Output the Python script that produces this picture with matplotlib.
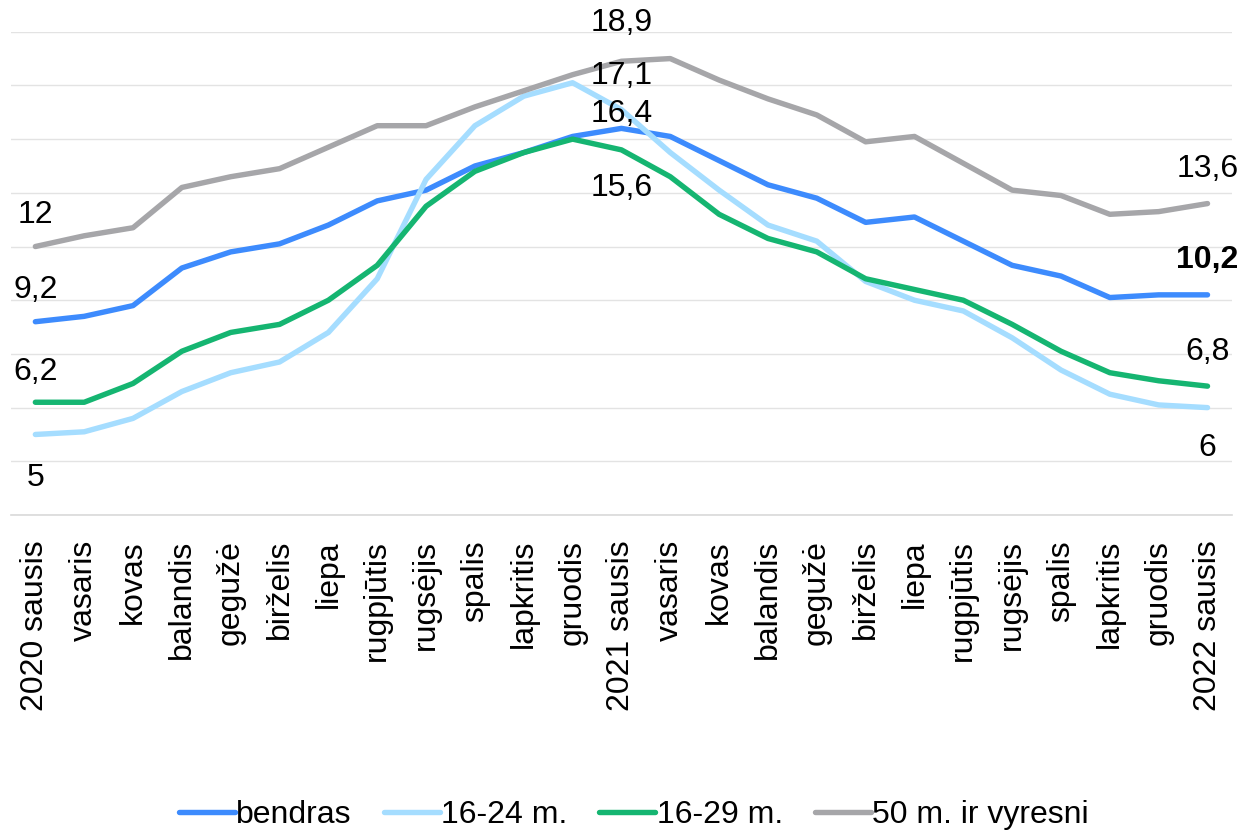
import numpy as np
import matplotlib.pyplot as plt

plt.rcParams['font.family'] = ['Liberation Sans', 'DejaVu Sans']

# Month labels along the x axis
months = ['2020 sausis', 'vasaris', 'kovas', 'balandis', 'gegužė', 'birželis',
          'liepa', 'rugpjūtis', 'rugsėjis', 'spalis', 'lapkritis', 'gruodis',
          '2021 sausis', 'vasaris', 'kovas', 'balandis', 'gegužė', 'birželis',
          'liepa', 'rugpjūtis', 'rugsėjis', 'spalis', 'lapkritis', 'gruodis',
          '2022 sausis']

# Series values
bendras = [9.2, 9.4, 9.8, 11.2, 11.8, 12.1, 12.8, 13.7, 14.1, 15.0, 15.5, 16.1,
           16.4, 16.1, 15.2, 14.3, 13.8, 12.9, 13.1, 12.2, 11.3, 10.9, 10.1, 10.2,
           10.2]
m16_24 = [5.0, 5.1, 5.6, 6.6, 7.3, 7.7, 8.8, 10.8, 14.5, 16.5, 17.6, 18.1,
          17.1, 15.5, 14.1, 12.8, 12.2, 10.7, 10.0, 9.6, 8.6, 7.4, 6.5, 6.1,
          6.0]
m16_29 = [6.2, 6.2, 6.9, 8.1, 8.8, 9.1, 10.0, 11.3, 13.5, 14.8, 15.5, 16.0,
          15.6, 14.6, 13.2, 12.3, 11.8, 10.8, 10.4, 10.0, 9.1, 8.1, 7.3, 7.0,
          6.8]
m50 = [12.0, 12.4, 12.7, 14.2, 14.6, 14.9, 15.7, 16.5, 16.5, 17.2, 17.8, 18.4,
       18.9, 19.0, 18.2, 17.5, 16.9, 15.9, 16.1, 15.1, 14.1, 13.9, 13.2, 13.3,
       13.6]

series = [bendras, m16_24, m16_29, m50]
names = ['bendras', '16-24 m.', '16-29 m.', '50 m. ir vyresni']
colors = ['#3D8BFD', '#A5DDFF', '#15B571', '#A6A6A9']

fig = plt.figure(figsize=(12.43, 8.35), dpi=100)
ax = fig.add_axes([0.0088, 0.3832, 0.9823, 0.5788])

x = np.arange(len(months))
for vals, name, c in zip(series, names, colors):
    ax.plot(x, vals, color=c, lw=3.9, label=name, solid_capstyle='round',
            solid_joinstyle='round')

# Data labels: (series index, point index, vertical offset in pixels, bold)
labels = [(3, 0, 32, False), (0, 0, 32, False), (2, 0, 30, False), (1, 0, -44, False),
          (3, 12, 38, False), (1, 12, 34, False), (0, 12, 14, False), (2, 12, -38, False),
          (3, 24, 35, False), (0, 24, 35, True), (2, 24, 34, False), (1, 24, -40, False)]
for si, pi, off, bold in labels:
    v = series[si][pi]
    txt = f'{v:g}'.replace('.', ',')
    ax.annotate(txt, (pi, v), xytext=(0, off), textcoords='offset pixels',
                ha='center', va='center', fontsize=23,
                fontweight='bold' if bold else 'normal', color='black')

ax.set_xlim(-0.5, len(months) - 0.5)
ax.set_ylim(2, 20)
ax.set_yticks(np.arange(2, 21, 2))
ax.yaxis.grid(True, color='#E3E3E3', lw=1)
ax.set_axisbelow(True)
ax.tick_params(axis='y', left=False, labelleft=False)
ax.set_xticks(x)
ax.set_xticklabels(months, rotation=90, fontsize=23)
ax.tick_params(axis='x', length=0, pad=18)
for s in ['top', 'right', 'left']:
    ax.spines[s].set_visible(False)
ax.spines['bottom'].set_color('#D9D9D9')
ax.spines['bottom'].set_linewidth(1.2)

fig.legend(loc='center', bbox_to_anchor=(0.51, 0.024), ncol=4, frameon=False,
           fontsize=23, handlelength=1.75, handletextpad=0.05, columnspacing=1.0)

fig.savefig('out.png', dpi=100)
